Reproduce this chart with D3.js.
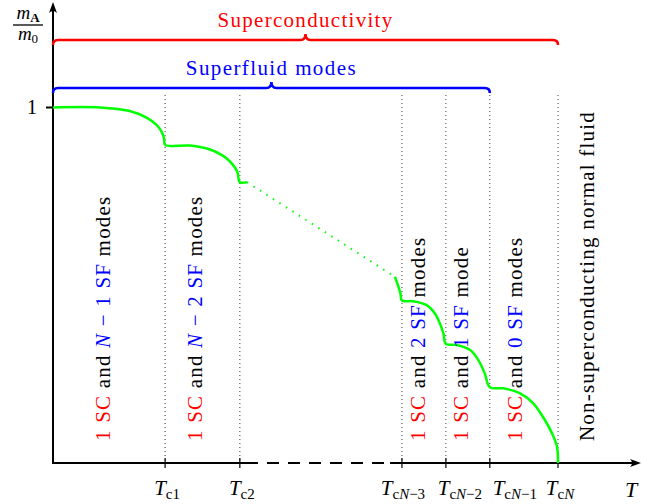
<!DOCTYPE html>
<html>
<head>
<meta charset="utf-8">
<script src="https://cdn.jsdelivr.net/npm/d3@7"></script>
</head>
<body style="margin:0">
<script>
// Temperature in units of TcN, mass ratio m_A / m_0
const tcValues = [0.222, 0.370, 0.691, 0.778, 0.865, 1.0];
const tcSubs = ["1", "2", "N−3", "N−2", "N−1", "N"];

// green curve, first solid part (T < Tc2)
const solidA_T = [0, 0.093, 0.152, 0.186, 0.205, 0.215, 0.220, 0.222, 0.271, 0.311, 0.337, 0.354, 0.365, 0.370, 0.384];
const solidA_m = [1, 1.0, 0.990, 0.971, 0.951, 0.932, 0.913, 0.895, 0.893, 0.882, 0.864, 0.843, 0.819, 0.790, 0.790];
// dotted bridge (intermediate transitions omitted)
const dotted_T = [0.384, 0.677];
const dotted_m = [0.790, 0.524];
// green curve, last solid part (TcN-3 .. TcN)
const solidB_T = [0.677, 0.684, 0.688, 0.691, 0.713, 0.740, 0.756, 0.766, 0.773, 0.778, 0.799, 0.826, 0.842, 0.855, 0.865, 0.892, 0.925, 0.951, 0.974, 0.988, 0.998, 1.0];
const solidB_m = [0.524, 0.496, 0.477, 0.457, 0.455, 0.444, 0.421, 0.393, 0.365, 0.335, 0.332, 0.318, 0.290, 0.252, 0.213, 0.210, 0.196, 0.168, 0.121, 0.084, 0.046, 0];

// vertical region labels: [text, kind, italic]
const regionLabels = [
    [["1 SC", "sc"], [" and ", "k"], ["N", "sf", 1], [" − 1 SF", "sf"], [" modes", "k"]],
    [["1 SC", "sc"], [" and ", "k"], ["N", "sf", 1], [" − 2 SF", "sf"], [" modes", "k"]],
    [["1 SC", "sc"], [" and ", "k"], ["2 SF", "sf"], [" modes", "k"]],
    [["1 SC", "sc"], [" and ", "k"], ["1 SF", "sf"], [" mode", "k"]],
    [["1 SC", "sc"], [" and ", "k"], ["0 SF", "sf"], [" modes", "k"]],
    [["Non-superconducting normal fluid", "k"]]
];

const braceLabels = ["Superconductivity", "Superfluid modes"];

// ---- layout ----
const width = 668, height = 504;
const colors = { sc: "#ff0000", sf: "#0000ff", k: "#000000" };
const green = "#00ff00";

const x = d3.scaleLinear().domain([0, 1]).range([53, 558]);
const y = d3.scaleLinear().domain([0, 1]).range([463, 107.5]);

const svg = d3.select("body").append("svg")
    .attr("width", width).attr("height", height);

function txt(parent) {
    return parent.append("text").attr("font-family", "Liberation Serif");
}

// dotted verticals at each Tc
svg.append("g").selectAll("line").data(tcValues).join("line")
    .attr("x1", d => x(d)).attr("x2", d => x(d))
    .attr("y1", y(1.035)).attr("y2", y(0))
    .attr("stroke", "#333").attr("stroke-width", 1)
    .attr("stroke-dasharray", "1,3");

// axes
const axis = svg.append("g").attr("stroke", "#000").attr("stroke-width", 2).attr("fill", "none");
axis.append("line").attr("x1", x(0)).attr("x2", x(0)).attr("y1", y(0) + 1).attr("y2", 8);
axis.append("line").attr("x1", x(0) - 1).attr("x2", 258).attr("y1", y(0)).attr("y2", y(0));
axis.append("line").attr("x1", 267).attr("x2", 390).attr("y1", y(0)).attr("y2", y(0))
    .attr("stroke-dasharray", "12,9");
axis.append("line").attr("x1", 390).attr("x2", 634).attr("y1", y(0)).attr("y2", y(0));
svg.append("path").attr("fill", "#000")
    .attr("d", `M${x(0)},2 L${x(0) + 4},13 Q${x(0)},9 ${x(0) - 4},13 Z`);
svg.append("path").attr("fill", "#000")
    .attr("d", `M641,${y(0)} L630,${y(0) - 4} Q634,${y(0)} 630,${y(0) + 4} Z`);

// ticks
svg.append("g").selectAll("line").data(tcValues).join("line")
    .attr("x1", d => x(d)).attr("x2", d => x(d))
    .attr("y1", y(0) - 5).attr("y2", y(0) + 5)
    .attr("stroke", "#000").attr("stroke-width", 1.2);
svg.append("line").attr("x1", x(0) - 7).attr("x2", x(0)).attr("y1", y(1)).attr("y2", y(1))
    .attr("stroke", "#000").attr("stroke-width", 2);
txt(svg).attr("x", 37).attr("y", y(1) + 6.5).attr("text-anchor", "end")
    .attr("font-size", 20).text("1");

// tick labels T_c...
const labelShift = [2, 2, 1, 14, 25, 2];
tcValues.forEach((tc, i) => {
    const t = txt(svg).attr("x", x(tc) + labelShift[i]).attr("y", 495)
        .attr("text-anchor", "middle").attr("font-size", 21);
    t.append("tspan").attr("font-style", "italic").text("T");
    t.append("tspan").attr("dy", 4).attr("font-size", 15).text("c");
    const s = tcSubs[i];
    if (s[0] === "N") {
        t.append("tspan").attr("font-size", 15).attr("font-style", "italic").text("N");
        if (s.length > 1) t.append("tspan").attr("font-size", 15).text(s.slice(1));
    } else {
        t.append("tspan").attr("font-size", 15).text(s);
    }
});
txt(svg).attr("x", 631).attr("y", 497).attr("text-anchor", "middle")
    .attr("font-size", 22).attr("font-style", "italic").text("T");

// y label m_A / m_0
const num = txt(svg).attr("x", 28).attr("y", 19).attr("text-anchor", "middle").attr("font-size", 19);
num.append("tspan").attr("font-style", "italic").text("m");
num.append("tspan").attr("dy", 3).attr("font-size", 13).attr("font-weight", "bold").text("A");
svg.append("line").attr("x1", 13).attr("x2", 43).attr("y1", 25).attr("y2", 25)
    .attr("stroke", "#000").attr("stroke-width", 1.3);
const den = txt(svg).attr("x", 28).attr("y", 40).attr("text-anchor", "middle").attr("font-size", 19);
den.append("tspan").attr("font-style", "italic").text("m");
den.append("tspan").attr("dy", 3).attr("font-size", 13).text("0");

// braces
const braces = [
    { t0: 0, t1: tcValues[5], m: 1.190, color: colors.sc, label: braceLabels[0], ls: 1.3 },
    { t0: 0, t1: tcValues[4], m: 1.055, color: colors.sf, label: braceLabels[1], ls: 1.4 }
];
braces.forEach(b => {
    const x0 = x(b.t0), x1 = x(b.t1), xm = (x0 + x1) / 2, yb = y(b.m);
    const r = 5;
    svg.append("path")
        .attr("d", `M${x0},${yb + r} Q${x0},${yb} ${x0 + r},${yb} L${xm - r},${yb} Q${xm},${yb} ${xm},${yb - r - 1}`
            + ` Q${xm},${yb} ${xm + r},${yb} L${x1 - r},${yb} Q${x1},${yb} ${x1},${yb + r}`)
        .attr("fill", "none").attr("stroke", b.color).attr("stroke-width", 2.6);
    txt(svg).attr("x", xm).attr("y", yb - 13).attr("text-anchor", "middle")
        .attr("fill", b.color).attr("font-size", 21).attr("letter-spacing", b.ls).text(b.label);
});

// green curve
const line = d3.line().x(d => x(d[0])).y(d => y(d[1])).curve(d3.curveCatmullRom.alpha(0.5));
const zip = (a, b) => a.map((v, i) => [v, b[i]]);
svg.append("path").attr("d", line(zip(solidA_T, solidA_m)))
    .attr("fill", "none").attr("stroke", green).attr("stroke-width", 2.5);
svg.append("path").attr("d", d3.line().x(d => x(d[0])).y(d => y(d[1]))(zip(dotted_T, dotted_m)))
    .attr("fill", "none").attr("stroke", green).attr("stroke-width", 2)
    .attr("stroke-dasharray", "1.5,6.2");
svg.append("path").attr("d", line(zip(solidB_T, solidB_m)))
    .attr("fill", "none").attr("stroke", green).attr("stroke-width", 2.5);

// vertical region labels
const regionX = [110, 202, 425, 468, 522, 594];
regionLabels.forEach((parts, i) => {
    const t = txt(svg)
        .attr("transform", `translate(${regionX[i]},441) rotate(-90)`)
        .attr("font-size", 21).attr("letter-spacing", 1.2);
    parts.forEach(p => {
        const s = t.append("tspan").attr("fill", colors[p[1]]).text(p[0]);
        if (p[2]) s.attr("font-style", "italic");
    });
});
</script>
</body>
</html>
